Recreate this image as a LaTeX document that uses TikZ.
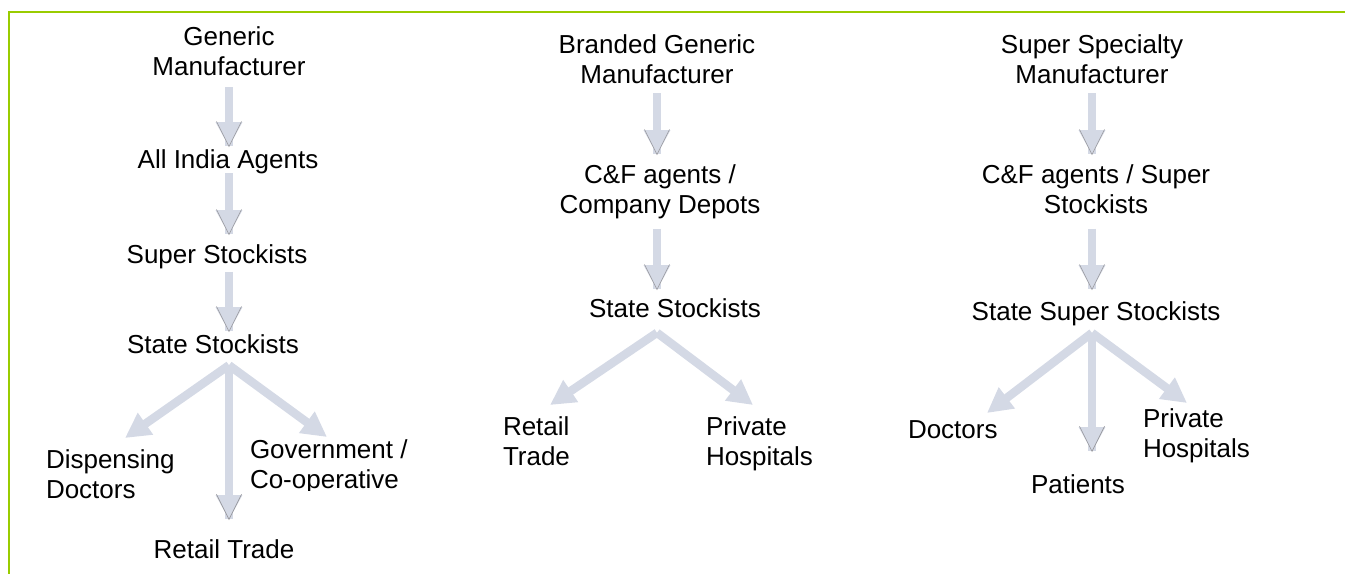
\documentclass[tikz,border=0pt]{standalone}
\usepackage{fontspec}
\setmainfont{Liberation Sans}
\usetikzlibrary{arrows.meta,calc}

\definecolor{framegreen}{RGB}{153,204,0}
\definecolor{flowfill}{RGB}{212,217,229}
\definecolor{flowedge}{RGB}{150,150,155}

\begin{document}
\begin{tikzpicture}[x=1pt,y=-1pt,
  label/.style={inner sep=0pt,outer sep=0pt,font=\fontsize{26pt}{30pt}\selectfont,anchor=base},
  leftlabel/.style={label,align=left,anchor=base west},
  midlabel/.style={label,align=center},
  flow/.style={draw=flowfill,line width=8.5pt,
    -{Triangle[width=25pt,length=25pt,fill=flowfill]}},
  % thin grey edges on the two slanted sides of a downward head
  veeflow/.style={flow,postaction={draw=flowfill,line width=8.5pt,
    -{Straight Barb[width=25pt,length=25pt,line width=0.6pt,color=flowedge]}}}]

\useasboundingbox (0,0) rectangle (1345,574);

% frame
\draw[framegreen,line width=2.5pt] (1345,12) -- (9,12) -- (9,574);

% axis coordinates of the three chains
\coordinate (ax1) at (229,0);
\coordinate (ax2) at (657,0);
\coordinate (ax3) at (1092,0);

% ---------- generic chain (multi-line labels sit on their last baseline) ----------
\node[midlabel] (g1) at (229,75) {Generic\\Manufacturer};
\node[label] (g2) at (228,168) {All India Agents};
\node[label] (g3) at (217,263) {Super Stockists};
\node[label] (g4) at (213,353) {State Stockists};
\node[leftlabel] (g5) at (46,498) {Dispensing\\Doctors};
\begin{scope}
  \clip (240,425) rectangle (430,490);
  \node[leftlabel] (g6) at (250,488) {Government /\\Co-operative};
\end{scope}
\node[label] (g7) at (224,558) {Retail Trade};

\coordinate (g5tip) at (125,438);
\coordinate (g6tip) at (327,437);
\coordinate (g7tip) at (229,520);

\draw[veeflow] ($(g1.south -| ax1)+(0,12)$) -- ($(g2.north -| ax1)+(0,-2)$);
\draw[veeflow] ($(g2.south -| ax1)+(0,0)$) -- ($(g3.north -| ax1)+(0,-9)$);
\draw[veeflow] ($(g3.south -| ax1)+(0,3.5)$) -- ($(g4.north -| ax1)+(0,-2)$);
\draw[flow] ($(g4.south -| ax1)+(0,12)$) -- (g5tip);
\draw[flow] ($(g4.south -| ax1)+(0,12)$) -- (g6tip);
\draw[veeflow] ($(g4.south -| ax1)+(0,12)$) -- (g7tip);

% ---------- branded generic chain ----------
\node[midlabel] (b1) at (657,83) {Branded Generic\\Manufacturer};
\node[midlabel] (b2) at (660,213) {C\&F agents /\\Company Depots};
\node[label] (b3) at (675,317) {State Stockists};
\node[leftlabel] (b4) at (503,465) {Retail\\Trade};
\node[leftlabel] (b5) at (706,465) {Private\\Hospitals};

\coordinate (b4tip) at (550,405);
\coordinate (b5tip) at (753,405);

\draw[veeflow] ($(b1.south -| ax2)+(0,10)$) -- ($(b2.north -| ax2)+(0,-9)$);
\draw[veeflow] ($(b2.south -| ax2)+(0,10.5)$) -- ($(b3.north -| ax2)+(0,-8)$);
\draw[flow] ($(b3.south -| ax2)+(0,15.5)$) -- (b4tip);
\draw[flow] ($(b3.south -| ax2)+(0,15.5)$) -- (b5tip);

% ---------- super specialty chain ----------
\node[midlabel] (s1) at (1092,83) {Super Specialty\\Manufacturer};
\node[midlabel] (s2) at (1096,213) {C\&F agents / Super\\Stockists};
\node[label] (s3) at (1096,320) {State Super Stockists};
\node[label,anchor=base west] (s4) at (908,438) {Doctors};
\node[leftlabel] (s5) at (1143,457) {Private\\Hospitals};
\node[label] (s6) at (1078,493) {Patients};

\coordinate (s4tip) at (987,413);
\coordinate (s5tip) at (1187,403);
\coordinate (s6tip) at (1092,452);

\draw[veeflow] ($(s1.south -| ax3)+(0,10)$) -- ($(s2.north -| ax3)+(0,-9)$);
\draw[veeflow] ($(s2.south -| ax3)+(0,15.5)$) -- ($(s3.north -| ax3)+(0,-11)$);
\draw[flow] ($(s3.south -| ax3)+(0,7.5)$) -- (s4tip);
\draw[flow] ($(s3.south -| ax3)+(0,7.5)$) -- (s5tip);
\draw[veeflow] ($(s3.south -| ax3)+(0,7.5)$) -- (s6tip);

\end{tikzpicture}
\end{document}
